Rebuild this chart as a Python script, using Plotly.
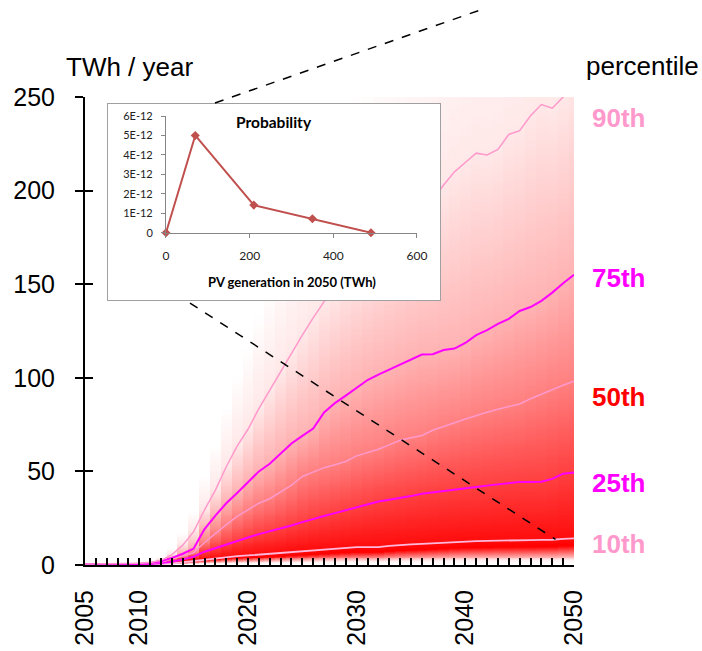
import numpy as np
import plotly.graph_objects as go

# ---------------- data ----------------
years = list(range(2005, 2051))

p10 = [0.2, 0.2, 0.2, 0.2, 0.2, 0.2, 0.3, 0.5, 0.8, 1.5,
       2.3, 3.0, 3.6, 4.2, 4.7, 5.1, 5.5, 6.0, 6.5, 7.0,
       7.4, 7.8, 8.3, 8.7, 9.1, 9.5, 9.5, 9.6, 10.2, 10.7,
       11.0, 11.3, 11.6, 11.9, 12.4, 12.7, 12.8, 12.9, 13.1, 13.1,
       13.2, 13.3, 13.4, 13.5, 14.0, 14.2]
p25 = [0.3, 0.3, 0.3, 0.3, 0.3, 0.3, 0.5, 1.0, 1.7, 3.0,
       4.4, 7.1, 9.1, 11.0, 13.0, 14.7, 16.5, 17.9, 19.3, 21.1,
       22.9, 24.7, 26.2, 27.7, 29.2, 30.6, 32.3, 33.9, 34.8, 35.7,
       36.8, 38.0, 38.8, 39.7, 40.4, 41.1, 41.7, 42.4, 43.1, 43.8,
       44.4, 44.4, 44.5, 46.0, 48.8, 49.4]
p50 = [0.4, 0.4, 0.4, 0.4, 0.4, 0.4, 0.8, 1.6, 3.2, 4.6,
       6.5, 12.0, 17.0, 21.6, 26.0, 29.6, 33.0, 35.4, 38.8, 42.6,
       47.3, 49.8, 52.0, 53.6, 55.3, 58.3, 60.0, 61.8, 64.2, 66.6,
       68.0, 69.2, 72.0, 74.2, 76.0, 78.0, 80.0, 81.6, 83.2, 84.6,
       86.0, 88.8, 91.2, 94.0, 96.0, 98.2]
p75 = [0.5, 0.5, 0.5, 0.5, 0.5, 0.5, 1.0, 2.0, 3.8, 6.0,
       8.8, 19.2, 26.4, 33.0, 38.5, 44.4, 50.0, 54.1, 59.5, 64.9,
       69.0, 72.9, 81.5, 86.5, 90.5, 94.5, 98.8, 101.7, 104.4, 107.0,
       109.7, 112.4, 112.6, 114.8, 115.6, 118.6, 122.8, 125.5, 128.8, 131.5,
       135.7, 137.8, 141.1, 145.5, 150.5, 155.0]
p90 = [0.6, 0.6, 0.6, 0.6, 0.7, 0.9, 1.3, 2.5, 5.5, 10.6,
       17.8, 29.5, 40.0, 52.5, 63.5, 72.5, 83.5, 93.4, 103.3, 112.5,
       122.8, 132.0, 140.7, 147.0, 153.0, 159.0, 164.0, 170.0, 175.0, 180.0,
       185.0, 190.0, 195.0, 203.0, 210.0, 215.0, 220.0, 219.0, 222.0, 230.0,
       232.0, 240.0, 246.0, 244.0, 250.0, 258.0]

inset_twh = [0, 70, 210, 350, 490]
inset_prob = [0, 5.0e-12, 1.42e-12, 0.72e-12, 0]

x_tickvals = [2005, 2010, 2020, 2030, 2040, 2050]
y_tickvals = [0, 50, 100, 150, 200, 250]
inset_ytick = [0, 1e-12, 2e-12, 3e-12, 4e-12, 5e-12, 6e-12]
inset_ytext = ["0", "1E-12", "2E-12", "3E-12", "4E-12", "5E-12", "6E-12"]
inset_xtick = [0, 200, 400, 600]

# ---------------- shading derived from the percentiles ----------------
ygrid = np.arange(0, 262, 0.5)
z = np.zeros((len(ygrid), len(years)))
for i in range(len(years)):
    xp = [0, 0.15 * p10[i], 0.7 * p10[i], p10[i], p25[i], p50[i], p75[i], p90[i], 1.6 * p90[i]]
    fp = [0, 0.05, 1.0, 0.95, 0.75, 0.5, 0.3, 0.09, 0.0]
    z[:, i] = np.interp(ygrid, xp, fp, right=0.0)

FONT = "Liberation Sans"
fig = go.Figure()

fig.add_trace(go.Heatmap(
    x=years, y=ygrid, z=z, zmin=0, zmax=1,
    colorscale=[[0, "#FFFFFF"], [1, "#FF0000"]],
    showscale=False, hoverinfo="skip", zsmooth=False))

line_specs = [
    (p10, "#FFB8DC", 1.8),
    (p25, "#FF00FF", 2.0),
    (p50, "#FF99CC", 1.5),
    (p75, "#FF00FF", 2.0),
    (p90, "#FF99CC", 1.5),
]
for vals, col, w in line_specs:
    fig.add_trace(go.Scatter(x=years, y=vals, mode="lines",
                             line=dict(color=col, width=w),
                             showlegend=False, hoverinfo="skip"))

# overlay axis for crossing y ticks
fig.add_trace(go.Scatter(x=[None], y=[None], yaxis="y4", showlegend=False, hoverinfo="skip"))
# inset frame subplot
fig.add_trace(go.Scatter(x=[None], y=[None], xaxis="x2", yaxis="y2", showlegend=False, hoverinfo="skip"))
# inset chart
fig.add_trace(go.Scatter(x=inset_twh, y=inset_prob, xaxis="x3", yaxis="y3",
                         mode="lines+markers",
                         line=dict(color="#C0504D", width=2),
                         marker=dict(symbol="diamond", size=7, color="#C0504D"),
                         cliponaxis=False, showlegend=False, hoverinfo="skip"))

# box domains (paper fractions of plot area)
box_x = [0.047, 0.726]
box_y = [0.566, 0.985]
ins_x = [0.1656, 0.6789]
ins_y = [0.710, 0.9594]

fig.update_layout(
    width=702, height=651, autosize=False,
    margin=dict(l=85, r=128, t=97, b=86),
    paper_bgcolor="white", plot_bgcolor="white",
    font=dict(family=FONT, color="black"),
    showlegend=False,
    xaxis=dict(range=[2005, 2050], domain=[0, 1], anchor="y", automargin=False,
               tickmode="array", tickvals=x_tickvals,
               ticks="inside", ticklen=7, tickwidth=1.5, tickcolor="black",
               minor=dict(tickmode="linear", tick0=2005, dtick=1, ticks="inside",
                          ticklen=7, tickwidth=1.5, tickcolor="black", showgrid=False),
               showline=True, linewidth=2, linecolor="black",
               showgrid=False, zeroline=False, tickangle=-90,
               tickfont=dict(size=25, family=FONT, color="black"),
               ticklabelstandoff=13),
    yaxis=dict(range=[0, 250], domain=[0, 1], anchor="x", automargin=False,
               tickmode="array", tickvals=y_tickvals,
               ticks="outside", ticklen=8, tickwidth=1.5, tickcolor="black",
               showline=True, linewidth=2, linecolor="black",
               showgrid=False, zeroline=False,
               tickfont=dict(size=25, family=FONT, color="black"),
               ticklabelstandoff=15),
    yaxis4=dict(range=[0, 250], overlaying="y", anchor="x", side="left", automargin=False,
                tickmode="array", tickvals=y_tickvals,
                ticks="inside", ticklen=8, tickwidth=1.5, tickcolor="black",
                showticklabels=False, showline=False, showgrid=False, zeroline=False),
    xaxis2=dict(domain=box_x, anchor="y2", range=[0, 1], showline=True, mirror=True,
                automargin=False,
                linecolor="#A0A0A0", linewidth=1, ticks="", showticklabels=False,
                showgrid=False, zeroline=False),
    yaxis2=dict(domain=box_y, anchor="x2", range=[0, 1], showline=True, mirror=True,
                automargin=False,
                linecolor="#A0A0A0", linewidth=1, ticks="", showticklabels=False,
                showgrid=False, zeroline=False),
    xaxis3=dict(domain=ins_x, anchor="y3", range=[0, 600], tickmode="array",
                automargin=False,
                tickvals=inset_xtick, ticks="outside", ticklen=4, tickcolor="#868686",
                showline=True, linecolor="#868686", linewidth=1,
                showgrid=False, zeroline=False,
                tickfont=dict(family="Lato", size=12, color="#222222"),
                ticklabelstandoff=8),
    yaxis3=dict(domain=ins_y, anchor="x3", range=[0, 6e-12], tickmode="array",
                automargin=False,
                tickvals=inset_ytick, ticktext=inset_ytext,
                ticks="outside", ticklen=4, tickcolor="#868686",
                showline=True, linecolor="#868686", linewidth=1,
                showgrid=False, zeroline=False,
                tickfont=dict(family="Lato", size=11, color="#222222"),
                ticklabelstandoff=6),
)

annos = [
    dict(text="TWh / year", x=0.092, y=1.064, xref="paper", yref="paper",
         xanchor="center", yanchor="middle", showarrow=False,
         font=dict(size=26, family=FONT, color="black")),
    dict(text="percentile", x=1.140, y=1.066, xref="paper", yref="paper",
         xanchor="center", yanchor="middle", showarrow=False,
         font=dict(size=26, family=FONT, color="black")),
    dict(text="<b>Probability</b>", x=0.3865, y=0.9472, xref="paper", yref="paper",
         xanchor="center", yanchor="middle", showarrow=False,
         font=dict(size=15.5, family="Lato", color="black")),
    dict(text="<b>PV generation in 2050 (TWh)</b>", x=0.4233, y=0.6047, xref="paper", yref="paper",
         xanchor="center", yanchor="middle", showarrow=False,
         font=dict(size=13, family="Lato", color="black")),
]
pct_labels = [("90th", 239, "#FF99CC"), ("75th", 153.5, "#FF00FF"), ("50th", 89.5, "#FF0000"),
              ("25th", 44, "#FF00FF"), ("10th", 11.3, "#FF99CC")]
for txt, yy, col in pct_labels:
    annos.append(dict(text="<b>%s</b>" % txt, x=2050, y=yy, xref="x", yref="y",
                      xanchor="left", yanchor="middle", xshift=16, showarrow=False,
                      font=dict(size=26, family=FONT, color=col)))
fig.update_layout(annotations=annos)

end_year = 2048.3
end_val = float(np.interp(end_year, years, p10))
shapes = [
    dict(type="line", xref="paper", yref="paper", x0=0.2658, y0=0.9872, x1=0.8139, y1=1.188,
         line=dict(color="black", width=1.5, dash="dash"), layer="above"),
    dict(type="line", xref="paper", yref="paper", x0=0.2147, y0=0.5598,
         x1=(end_year - 2005) / 45.0, y1=end_val / 250.0,
         line=dict(color="black", width=1.5, dash="dash"), layer="above"),
]
fig.update_layout(shapes=shapes)

fig.write_html("out.html")
